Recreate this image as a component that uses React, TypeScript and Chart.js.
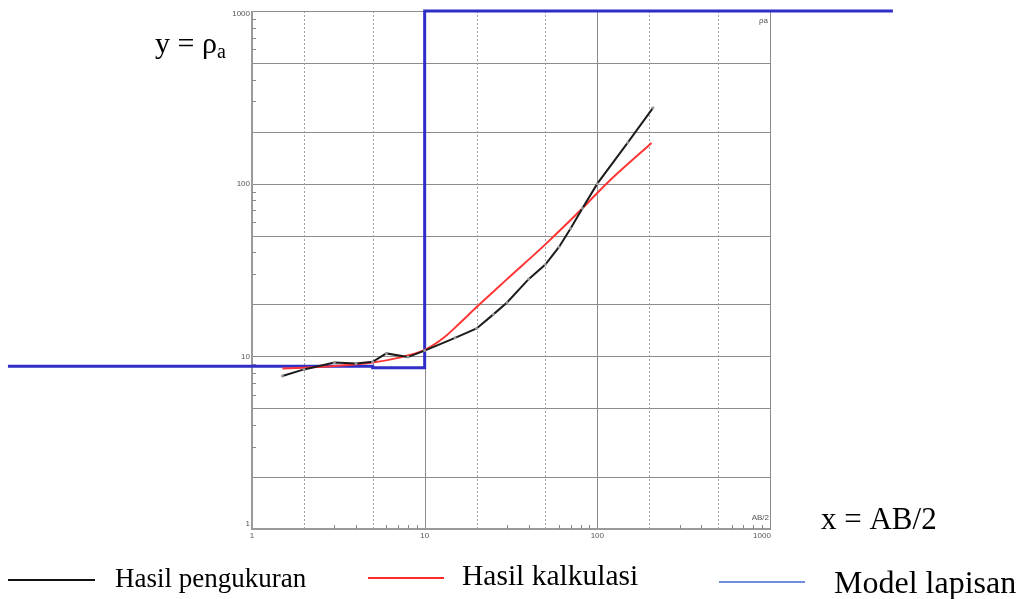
import React, { useEffect, useRef } from 'react';
import { Chart, registerables } from 'chart.js';

Chart.register(...registerables);

// Measured apparent resistivity (Hasil pengukuran)
const abHalfMeasured = [1.5, 2, 3, 4, 5, 6, 8, 10, 15, 20, 25, 30, 40, 50, 60, 70, 82, 100, 150, 210];
const rhoMeasured = [7.7, 8.4, 9.2, 9.1, 9.3, 10.4, 9.9, 10.8, 12.8, 14.5, 17.5, 20.5, 28, 34, 43, 55, 72, 100, 173, 275];

// Calculated curve (Hasil kalkulasi)
const abHalfCalc = [1.5, 2, 3, 5, 7, 10, 13, 16, 20, 30, 50, 82, 113, 206];
const rhoCalc = [8.5, 8.6, 8.8, 9.2, 9.8, 10.9, 12.9, 15.6, 19.3, 28, 44.5, 72, 100, 172];

// Layer model (Model lapisan)
const modelDepth = [0.0386, 5, 5, 10, 10, 5150];
const modelRho = [8.75, 8.75, 8.6, 8.6, 1000, 1000];

// Axis decoration
const decadeValues = [1, 10, 100, 1000];
const decadeLabels = ['1', '10', '100', '1000'];
const solidVertical = [10, 100];
const dottedVertical = [2, 5, 20, 50, 200, 500];
const solidHorizontal = [2, 5, 10, 20, 50, 100, 200, 500];
const minorValues = [3, 4, 6, 7, 8, 9, 30, 40, 60, 70, 80, 90, 300, 400, 600, 700, 800, 900];

const legendItems = ['Hasil pengukuran', 'Hasil kalkulasi', 'Model lapisan'];
const legendColors = ['#111111', '#ff2a2a', '#6f8fdc'];

const SERIF = '"Liberation Serif", "Times New Roman", serif';

const gridPlugin = {
  id: 'logGrid',
  beforeDatasetsDraw(chart: any) {
    const { ctx, chartArea, scales } = chart;
    const { left, right, top, bottom } = chartArea;
    const x = scales.x;
    const y = scales.y;
    ctx.save();
    ctx.lineWidth = 1;
    ctx.strokeStyle = '#8c8c8c';
    solidHorizontal.forEach((v) => {
      const py = Math.round(y.getPixelForValue(v)) + 0.5;
      ctx.beginPath();
      ctx.moveTo(left, py);
      ctx.lineTo(right, py);
      ctx.stroke();
    });
    solidVertical.forEach((v) => {
      const px = Math.round(x.getPixelForValue(v)) + 0.5;
      ctx.beginPath();
      ctx.moveTo(px, top);
      ctx.lineTo(px, bottom);
      ctx.stroke();
    });
    ctx.strokeStyle = '#a0a0a0';
    ctx.setLineDash([2, 2]);
    dottedVertical.forEach((v) => {
      const px = Math.round(x.getPixelForValue(v)) + 0.5;
      ctx.beginPath();
      ctx.moveTo(px, top);
      ctx.lineTo(px, bottom);
      ctx.stroke();
    });
    ctx.setLineDash([]);
    // frame
    ctx.strokeStyle = '#8c8c8c';
    ctx.strokeRect(Math.round(left) + 0.5, Math.round(top) + 0.5, Math.round(right - left), Math.round(bottom - top));
    ctx.lineWidth = 2;
    ctx.strokeStyle = '#9a9a9a';
    ctx.beginPath();
    ctx.moveTo(left, top);
    ctx.lineTo(left, bottom);
    ctx.lineTo(right, bottom);
    ctx.stroke();
    // minor ticks
    ctx.lineWidth = 1;
    ctx.strokeStyle = '#888';
    minorValues.forEach((v) => {
      const py = Math.round(y.getPixelForValue(v)) + 0.5;
      ctx.beginPath();
      ctx.moveTo(left, py);
      ctx.lineTo(left + 4, py);
      ctx.stroke();
      const px = Math.round(x.getPixelForValue(v)) + 0.5;
      ctx.beginPath();
      ctx.moveTo(px, bottom);
      ctx.lineTo(px, bottom - 4);
      ctx.stroke();
    });
    ctx.restore();
  },
  afterDraw(chart: any) {
    const { ctx, chartArea, scales } = chart;
    const { left, right, top, bottom } = chartArea;
    const x = scales.x;
    const y = scales.y;
    ctx.save();
    ctx.fillStyle = '#555';
    ctx.font = '8px Arial, "Liberation Sans", sans-serif';
    ctx.textBaseline = 'middle';
    ctx.textAlign = 'right';
    decadeValues.forEach((v, i) => {
      let py = y.getPixelForValue(v);
      if (v === 1000) py += 3;
      if (v === 1) py -= 5;
      ctx.fillText(decadeLabels[i], left - 2, py);
    });
    ctx.textAlign = 'center';
    decadeValues.forEach((v, i) => {
      let px = x.getPixelForValue(v);
      if (v === 1000) px -= 8;
      ctx.fillText(decadeLabels[i], px, bottom + 7);
    });
    ctx.textAlign = 'right';
    ctx.fillText('AB/2', right - 1, bottom - 11);
    ctx.fillText('ρa', right - 2, top + 10);

    // large serif annotations
    ctx.fillStyle = '#000';
    ctx.textAlign = 'left';
    ctx.textBaseline = 'alphabetic';
    ctx.font = `30px ${SERIF}`;
    const main = 'y = ρ';
    ctx.fillText(main, 155, 53);
    const w = ctx.measureText(main).width;
    ctx.font = `20px ${SERIF}`;
    ctx.fillText('a', 155 + w, 58);
    ctx.font = `31px ${SERIF}`;
    ctx.fillText('x = AB/2', 821, 529);

    // legend
    const lineX = [[8, 95], [368, 444], [719, 805]];
    const lineY = [580, 578, 582];
    const textX = [115, 462, 834];
    const textY = [587, 585, 593];
    const textSize = [27, 29.5, 32];
    legendItems.forEach((label, i) => {
      ctx.strokeStyle = legendColors[i];
      ctx.lineWidth = 2;
      ctx.beginPath();
      ctx.moveTo(lineX[i][0], lineY[i]);
      ctx.lineTo(lineX[i][1], lineY[i]);
      ctx.stroke();
      ctx.fillStyle = '#000';
      ctx.font = `${textSize[i]}px ${SERIF}`;
      ctx.fillText(label, textX[i], textY[i]);
    });
    ctx.restore();
  },
};

export default function App() {
  const canvasRef = useRef<HTMLCanvasElement | null>(null);

  useEffect(() => {
    if (!canvasRef.current) return;
    const chart = new Chart(canvasRef.current, {
      type: 'line',
      data: {
        datasets: [
          {
            label: legendItems[2],
            data: modelDepth.map((d, i) => ({ x: d, y: modelRho[i] })),
            borderColor: '#2f2fc8',
            borderWidth: 3,
            pointRadius: 0,
            clip: false as any,
            order: 3,
          },
          {
            label: legendItems[1],
            data: abHalfCalc.map((d, i) => ({ x: d, y: rhoCalc[i] })),
            borderColor: '#ff3535',
            borderWidth: 2,
            pointRadius: 0,
            cubicInterpolationMode: 'monotone',
            order: 2,
          },
          {
            label: legendItems[0],
            data: abHalfMeasured.map((d, i) => ({ x: d, y: rhoMeasured[i] })),
            borderColor: '#1c1c1c',
            borderWidth: 2,
            pointRadius: 1.5,
            pointBackgroundColor: '#9a9a9a',
            pointBorderColor: '#9a9a9a',
            pointBorderWidth: 0,
            order: 1,
          },
        ],
      },
      options: {
        animation: false,
        responsive: true,
        maintainAspectRatio: false,
        layout: { padding: { left: 252, right: 251, top: 11, bottom: 70 } },
        plugins: { legend: { display: false }, tooltip: { enabled: false } },
        scales: {
          x: { type: 'logarithmic', min: 1, max: 1000, display: false },
          y: { type: 'logarithmic', min: 1, max: 1000, display: false },
        },
      },
      plugins: [gridPlugin],
    });
    return () => chart.destroy();
  }, []);

  return (
    <div style={{ position: 'fixed', left: 0, top: 0, width: 1021, height: 599, background: '#fff' }}>
      <canvas ref={canvasRef} />
    </div>
  );
}
